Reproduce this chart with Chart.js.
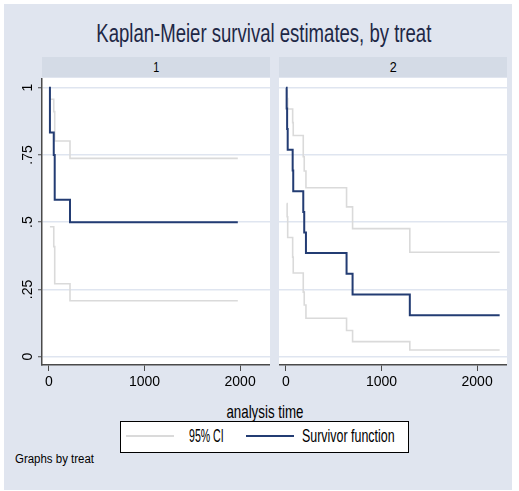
<!DOCTYPE html>
<html>
<head>
<meta charset="utf-8">
<script src="https://cdn.jsdelivr.net/npm/chart.js@4.4.1/dist/chart.umd.min.js"></script>
<style>
html,body{margin:0;padding:0;background:#fff;width:519px;height:491px;overflow:hidden;font-family:"Liberation Sans",Arial,sans-serif;}
#bg{position:absolute;left:4px;top:4px;width:508px;height:486px;background:rgb(224,229,239);}
.strip{position:absolute;top:57px;height:20px;background:rgb(212,219,230);}
.plotbg{position:absolute;top:78px;height:287px;background:#fff;}
canvas{position:absolute;}
.txt{position:absolute;white-space:nowrap;color:#000;}
#legend{position:absolute;left:120px;top:421px;width:287px;height:30px;border:1px solid #000;background:#fff;}
.lline{position:absolute;height:2px;}
</style>
</head>
<body>
<div id="bg"></div>
<div class="strip" style="left:42px;width:228px;"></div>
<div class="strip" style="left:279px;width:228px;"></div>
<div class="plotbg" style="left:42px;width:228px;"></div>
<div class="plotbg" style="left:279px;width:228px;"></div>
<canvas id="c1" width="266" height="317" style="left:4px;top:78px;"></canvas>
<canvas id="c2" width="228" height="317" style="left:279px;top:78px;"></canvas>
<div id="legend"></div>
<div class="lline" style="left:126px;top:435px;width:48px;background:rgb(218,218,218);"></div>
<div class="lline" style="left:246px;top:435px;width:48px;background:rgb(35,60,115);"></div>
<script>
// ---------- data ----------
const panelLabels = ['1', '2'];
const xTickValues = [0, 1000, 2000];
const xTickText = ['0', '1000', '2000'];
const yTickValues = [0, 0.25, 0.5, 0.75, 1];
const yTickText = ['0', '.25', '.5', '.75', '1'];

// treat = 1
const t1Surv = [0, 10, 50, 60, 220, 1976];
const s1Surv = [1, 0.833, 0.75, 0.583, 0.5, 0.5];
const t1CI = [10, 50, 60, 220, 1976];
const s1Upper = [0.957, 0.911, 0.802, 0.737, 0.737];
const s1Lower = [0.483, 0.409, 0.271, 0.208, 0.208];

// treat = 2
const t2Surv = [0, 7, 12, 18, 70, 76, 181, 191, 209, 634, 697, 1296, 2236];
const s2Surv = [1, 0.923, 0.846, 0.769, 0.692, 0.615, 0.538, 0.462, 0.385, 0.308, 0.231, 0.154, 0.154];
const t2CI = [7, 12, 18, 70, 76, 181, 191, 209, 634, 697, 1296, 2236];
const s2Upper = [0.99, 0.96, 0.921, 0.87, 0.822, 0.743, 0.69, 0.628, 0.557, 0.476, 0.388, 0.388];
const s2Lower = [0.569, 0.52, 0.443, 0.37, 0.311, 0.24, 0.192, 0.143, 0.097, 0.056, 0.025, 0.025];

const legendLabels = ['95% CI', 'Survivor function'];
const titleText = 'Kaplan-Meier survival estimates, by treat';
const xTitle = 'analysis time';
const noteText = 'Graphs by treat';

// ---------- styles ----------
const navy = 'rgb(35,60,115)';
const ciGray = 'rgb(218,218,218)';
const gridCol = 'rgb(223,229,240)';
const axisCol = '#4a4a4a';
const tickFont = {family: '"Liberation Sans Narrow", "Liberation Sans", Arial, sans-serif', size: 14};

function pts(ts, vs) { return ts.map((t, i) => ({x: t, y: vs[i]})); }

function makeChart(id, tS, sS, tC, up, lo, showY) {
  const ds = [
    {label: legendLabels[1], data: pts(tS, sS), borderColor: navy, borderWidth: 2, stepped: 'before', pointRadius: 0, fill: false},
    {label: legendLabels[0], data: pts(tC, up), borderColor: ciGray, borderWidth: 1.6, stepped: 'before', pointRadius: 0, fill: false},
    {label: legendLabels[0], data: pts(tC, lo), borderColor: ciGray, borderWidth: 1.6, stepped: 'before', pointRadius: 0, fill: false}
  ];
  return new Chart(document.getElementById(id), {
    type: 'line',
    data: {datasets: ds},
    options: {
      responsive: false, animation: false, devicePixelRatio: 1,
      layout: {padding: 0},
      plugins: {legend: {display: false}, tooltip: {enabled: false}, title: {display: false}},
      scales: {
        x: {
          type: 'linear', min: -73, max: 2313,
          afterBuildTicks: s => { s.ticks = xTickValues.map(v => ({value: v})); },
          afterFit: s => { s.height = 30; s.paddingLeft = 0; s.paddingRight = 0; },
          grid: {drawOnChartArea: false, drawTicks: true, tickLength: 6, tickColor: axisCol, tickWidth: 1},
          border: {display: true, color: axisCol, width: 1.5},
          ticks: {
            font: tickFont, color: '#000', padding: 3, maxRotation: 0, minRotation: 0, autoSkip: false,
            callback: v => { const i = xTickValues.indexOf(v); return i >= 0 ? xTickText[i] : ''; }
          }
        },
        y: {
          type: 'linear', min: -0.031, max: 1.036,
          afterBuildTicks: s => { s.ticks = yTickValues.map(v => ({value: v})); },
          afterFit: s => { s.width = showY ? 38 : 0; s.paddingTop = 0; s.paddingBottom = 0; },
          grid: {color: gridCol, lineWidth: 1.5, drawTicks: showY, tickLength: 4, tickColor: axisCol, tickWidth: 1},
          border: {display: showY, color: axisCol, width: 1.5},
          ticks: {
            display: showY, font: tickFont, color: '#000', padding: 0,
            minRotation: 90, maxRotation: 90, crossAlign: 'center',
            callback: v => { const i = yTickValues.indexOf(v); return i >= 0 ? yTickText[i] : ''; }
          }
        }
      }
    }
  });
}

makeChart('c1', t1Surv, s1Surv, t1CI, s1Upper, s1Lower, true);
makeChart('c2', t2Surv, s2Surv, t2CI, s2Upper, s2Lower, false);

// ---------- html text ----------
function place(txt, size, x, baseline, w, anchor, color) {
  const el = document.createElement('div');
  el.className = 'txt';
  el.textContent = txt;
  el.style.fontSize = size + 'px';
  el.style.lineHeight = size + 'px';
  if (color) el.style.color = color;
  document.body.appendChild(el);
  const nat = el.getBoundingClientRect().width;
  const k = w ? w / nat : 1;
  el.style.top = (baseline - 0.8465 * size) + 'px';
  if (anchor === 'center') {
    el.style.left = (x - nat / 2) + 'px';
    el.style.transformOrigin = '50% 50%';
  } else {
    el.style.left = x + 'px';
    el.style.transformOrigin = '0 50%';
  }
  el.style.transform = 'scaleX(' + k + ')';
}
place(titleText, 25, 264, 42, 335, 'center', 'rgb(30,40,70)');
place(panelLabels[0], 15, 156, 72, 6, 'center');
place(panelLabels[1], 15, 393, 72, 7, 'center');
place(xTitle, 19, 265, 418, 77, 'center');
place(legendLabels[0], 18, 189.3, 442, 34.7, 'left');
place(legendLabels[1], 18, 301.7, 442, 92.6, 'left');
place(noteText, 12, 15, 463.5, 79, 'left');
</script>
</body>
</html>
